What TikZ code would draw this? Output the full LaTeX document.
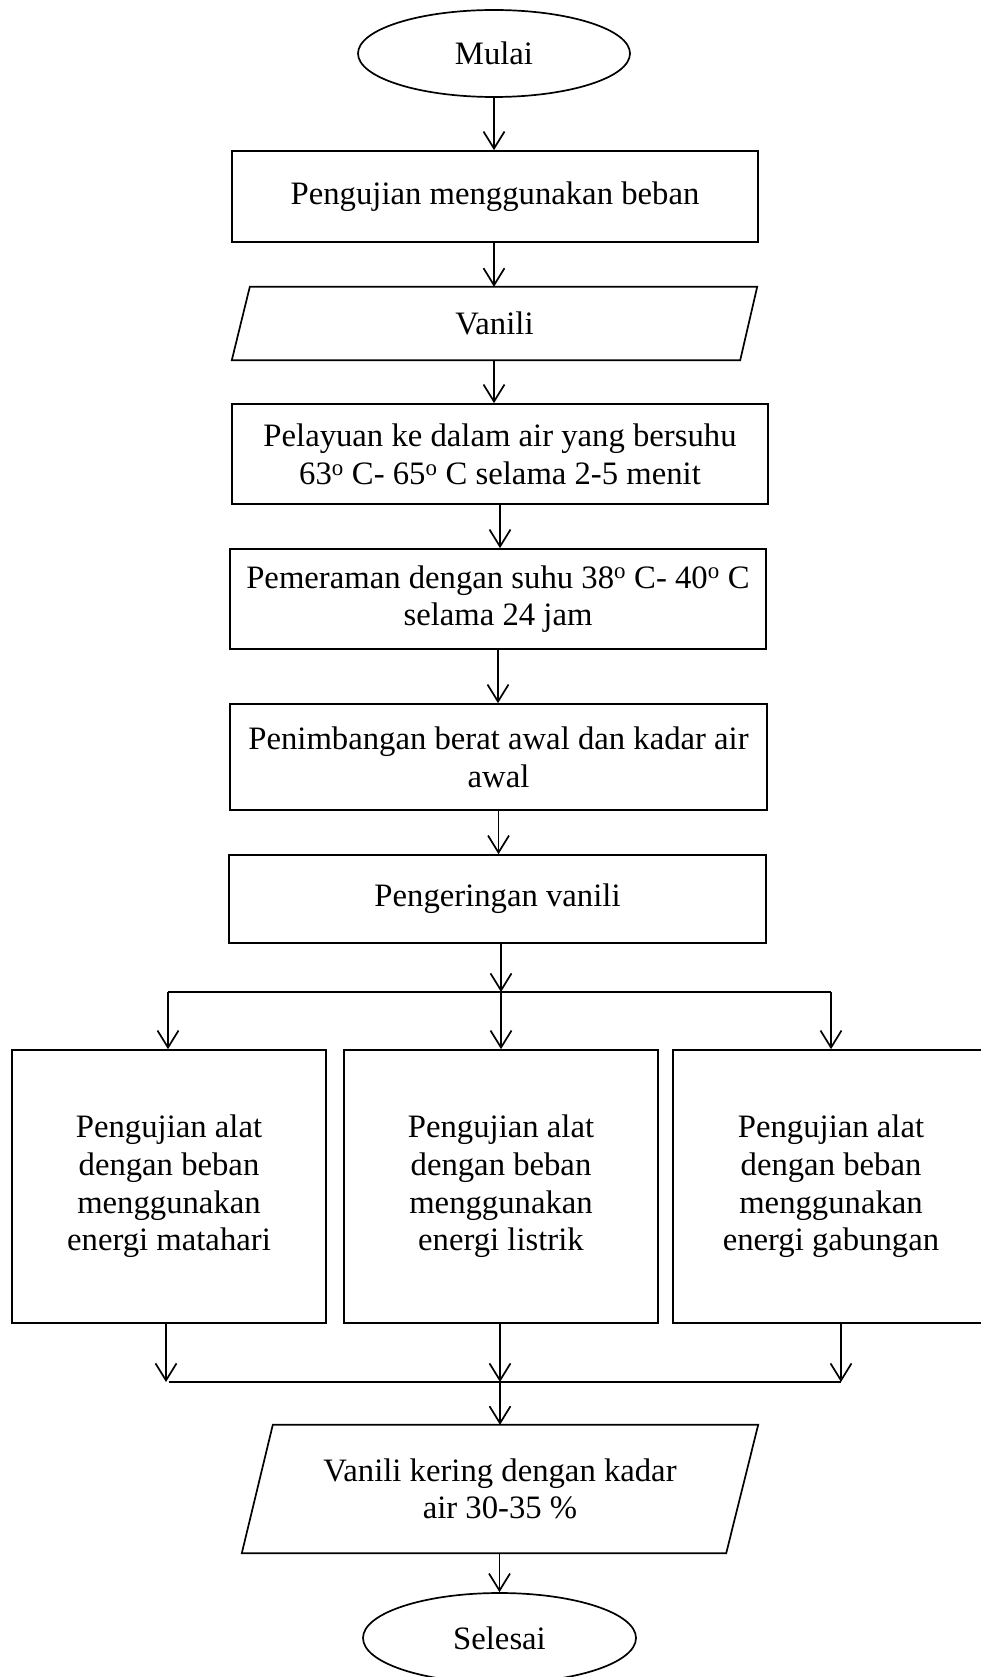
\documentclass[tikz,border=0pt]{standalone}
\usepackage{fontspec}
\setmainfont{Liberation Serif}
\usetikzlibrary{shapes.geometric,arrows.meta,calc}
\begin{document}
\begin{tikzpicture}[x=1pt,y=-1pt,
  every node/.style={font=\fontsize{32.7}{37.7}\selectfont, align=center, inner sep=0pt},
  box/.style={draw, line width=1.7pt, rectangle},
  term/.style={draw, line width=1.7pt, ellipse},
  para/.style={rectangle},
  arr/.style={line width=1.7pt, -{Straight Barb[length=17pt,width=21pt,line width=1.7pt]}},
  ln/.style={line width=1.7pt}]
\useasboundingbox (0,0) rectangle (981,1677);
\clip (0,0) rectangle (981,1677);
\fill[white] (0,0) rectangle (981,1677);

\node[term, minimum width=272pt, minimum height=87pt] (start) at (494,53.5) {Mulai};
\node[box, minimum width=526pt, minimum height=91pt] (b1) at (495,196.5) {Pengujian menggunakan beban};
\node[para, minimum width=525pt, minimum height=73pt] (van) at (494.5,323.5) {Vanili};
\draw[ln] ([xshift=18pt]van.north west) -- (van.north east) -- ([xshift=-17pt]van.south east) -- (van.south west) -- cycle;
\node[box, minimum width=536pt, minimum height=100pt] (pel) at (500,454) {Pelayuan ke dalam air yang bersuhu\\63\textsuperscript{o} C- 65\textsuperscript{o} C selama 2-5 menit};
\node[box, minimum width=536pt, minimum height=100pt] (pem) at (498,599) {Pemeraman dengan suhu 38\textsuperscript{o} C- 40\textsuperscript{o} C\\selama 24 jam};
\node[box, minimum width=537pt, minimum height=106pt] (pen) at (498.5,757) {Penimbangan berat awal dan kadar air\\awal};
\node[box, minimum width=537pt, minimum height=88pt] (ger) at (497.5,899) {Pengeringan vanili};

\node[box, minimum width=314pt, minimum height=273pt] (L) at (169,1186.5) {Pengujian alat\\dengan beban\\menggunakan\\energi matahari};
\node[box, minimum width=314pt, minimum height=273pt] (M) at (501,1186.5) {Pengujian alat\\dengan beban\\menggunakan\\energi listrik};
\node[box, minimum width=316pt, minimum height=273pt] (R) at (831,1186.5) {Pengujian alat\\dengan beban\\menggunakan\\energi gabungan};

\node[para, minimum width=516pt, minimum height=128pt] (vk) at (500,1489) {Vanili kering dengan kadar\\air 30-35 \%};
\draw[ln] ([xshift=31pt]vk.north west) -- (vk.north east) -- ([xshift=-32pt]vk.south east) -- (vk.south west) -- cycle;
\node[term, minimum width=273pt, minimum height=90pt] (end) at (499.5,1638) {Selesai};

\coordinate (s) at (501,992);
\coordinate (sL) at (168,992);
\coordinate (sR) at (831,992);
\coordinate (m) at (500,1382);
\coordinate (mL) at (166,1382);
\coordinate (mR) at (841,1382);

\draw[arr] (start.south) -- (start.south |- b1.north);
\draw[arr] (b1.south -| start.south) -- (start.south |- van.north);
\draw[arr] (van.south -| start.south) -- (start.south |- pel.north);
\draw[arr] (pel.south) -- (pel.south |- pem.north);
\draw[arr] (pem.south) -- (pem.south |- pen.north);
\draw[arr] (pen.south) -- (pen.south |- ger.north);
\draw[arr] (ger.south -| s) -- (s);
\draw[ln] (sL) -- (sR);
\draw[arr] (sL) -- (sL |- L.north);
\draw[arr] (s) -- (s |- M.north);
\draw[arr] (sR) -- (sR |- R.north);
\draw[arr] (L.south -| mL) -- (mL);
\draw[arr] (M.south -| m) -- (m);
\draw[arr] (R.south -| mR) -- (mR);
\draw[ln] ([xshift=3pt]mL) -- (mR);
\draw[arr] (m) -- (m |- vk.north);
\draw[arr] (vk.south -| end.north) -- (end.north);
\end{tikzpicture}
\end{document}
